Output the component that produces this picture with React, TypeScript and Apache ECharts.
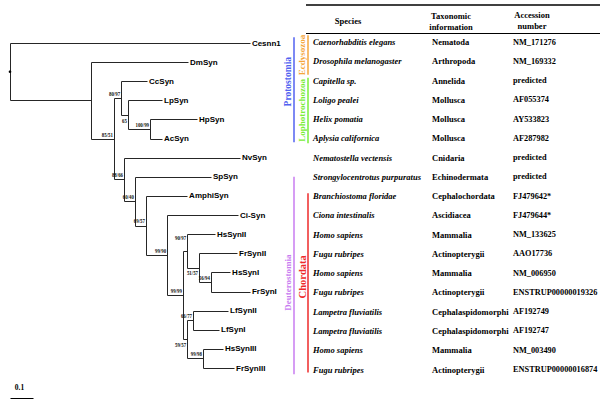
import React, { useEffect, useRef } from "react";
import * as echarts from "echarts";

// ---------- Data ----------
const leafNames = [
  "Cesnn1", "DmSyn", "CcSyn", "LpSyn", "HpSyn", "AcSyn", "NvSyn", "SpSyn", "AmphiSyn",
  "Ci-Syn", "HsSynII", "FrSynII", "HsSynI", "FrSynI", "LfSynII", "LfSynI", "HsSynIII", "FrSynIII",
];

// [child, parent, branch length]
const branches: [string, string, number][] = [
  ["A", "root", 0.352],
  ["Cesnn1", "root", 1.043],
  ["DmSyn", "A", 0.422],
  ["B", "A", 0.1],
  ["C", "B", 0.031],
  ["F", "B", 0.044],
  ["CcSyn", "C", 0.113],
  ["D", "C", 0.03],
  ["LpSyn", "D", 0.148],
  ["E", "D", 0.096],
  ["HpSyn", "E", 0.204],
  ["AcSyn", "E", 0.052],
  ["NvSyn", "F", 0.504],
  ["G", "F", 0.047],
  ["SpSyn", "G", 0.331],
  ["H", "G", 0.048],
  ["AmphiSyn", "H", 0.179],
  ["I", "H", 0.092],
  ["Ci-Syn", "I", 0.308],
  ["J", "I", 0.069],
  ["K1", "J", 0.018],
  ["L", "J", 0.018],
  ["HsSynII", "K1", 0.121],
  ["K2", "K1", 0.052],
  ["FrSynII", "K2", 0.165],
  ["K3", "K2", 0.052],
  ["HsSynI", "K3", 0.083],
  ["FrSynI", "K3", 0.169],
  ["M", "L", 0.026],
  ["N", "L", 0.069],
  ["LfSynII", "M", 0.152],
  ["LfSynI", "M", 0.113],
  ["HsSynIII", "N", 0.087],
  ["FrSynIII", "N", 0.135],
];

const supportNodes = ["B", "C", "D", "E", "F", "G", "H", "I", "J", "K1", "K2", "K3", "L", "M", "N"];
const supportValues = ["85/51", "80/97", "65", "100/99", "88/66", "60/40", "69/57", "99/90", "99/99", "90/97", "51/57", "56/94", "59/57", "66/77", "99/98"];

const scaleBarValues = [0.1];
const scaleBarLabels = ["0.1"];

const speciesNames = [
  "Caenorhabditis elegans", "Drosophila melanogaster", "Capitella sp.", "Loligo pealei",
  "Helix pomatia", "Aplysia californica", "Nematostella vectensis", "Strongylocentrotus purpuratus",
  "Branchiostoma floridae", "Ciona intestinalis", "Homo sapiens", "Fugu rubripes", "Homo sapiens",
  "Fugu rubripes", "Lampetra fluviatilis", "Lampetra fluviatilis", "Homo sapiens", "Fugu rubripes",
];
const taxonomyInfo = [
  "Nematoda", "Arthropoda", "Annelida", "Mollusca", "Mollusca", "Mollusca", "Cnidaria",
  "Echinodermata", "Cephalochordata", "Ascidiacea", "Mammalia", "Actinopterygii", "Mammalia",
  "Actinopterygii", "Cephalaspidomorphi", "Cephalaspidomorphi", "Mammalia", "Actinopterygii",
];
const accessionNumbers = [
  "NM_171276", "NM_169332", "predicted", "AF055374", "AY533823", "AF287982", "predicted",
  "predicted", "FJ479642*", "FJ479644*", "NM_133625", "AAO17736", "NM_006950",
  "ENSTRUP00000019326", "AF192749", "AF192747", "NM_003490", "ENSTRUP00000016874",
];
const headerSpecies = ["Species"];
const headerTaxonomy = ["Taxonomic", "information"];
const headerAccession = ["Accession", "number"];

const cladeNames = ["Protostomia", "Ecdysozoa", "Lophotrochozoa", "Deuterostomia", "Chordata"];
const cladeFirstRow = [-0.25, -0.35, 1.85, 7.0, 7.85];
const cladeLastRow = [5.2, 1.7, 5.25, 17.25, 17.15];

// ---------- Styles / layout ----------
const LINE = "#262626";
const cladeColors = ["#5262f0", "#f5a63a", "#7aee36", "#c87cf0", "#ee2a2a"];
const cladeLevel = [0, 1, 1, 0, 1];
const cladeFontSize = [9.5, 9, 9, 9, 10.5];
const cladeLabelShift = [-8, 0, 0, 7, -6];
const belowLabels = ["D", "K2", "L"];
const raisedLabels = ["K1"];
const SERIF = '"Liberation Serif", "Times New Roman", serif';
const SANS = '"Liberation Sans", Arial, sans-serif';

// ---------- Tree computation ----------
const parentOf: Record<string, string> = {};
const lenOf: Record<string, number> = {};
const childrenOf: Record<string, string[]> = {};
branches.forEach(([c, p, l]) => {
  parentOf[c] = p;
  lenOf[c] = l;
  (childrenOf[p] = childrenOf[p] || []).push(c);
});
const depthOf = (n: string): number => (n === "root" ? 0 : depthOf(parentOf[n]) + lenOf[n]);
const yOf = (n: string): number => {
  const li = leafNames.indexOf(n);
  if (li >= 0) return li;
  const ys = childrenOf[n].map(yOf);
  return (Math.min(...ys) + Math.max(...ys)) / 2;
};
const allNodes = ["root", ...branches.map((b) => b[0])];
const treeData = allNodes.map((n) => {
  const d = depthOf(n);
  const y = yOf(n);
  const pd = n === "root" ? d : depthOf(parentOf[n]);
  const ch = childrenOf[n];
  const cys = ch ? ch.map(yOf) : [y, y];
  return [d, y, pd, Math.min(...cys), Math.max(...cys), ch ? 0 : 1];
});

const px = (v: number) => Math.round(v) + 0.5;

export default function App() {
  const ref = useRef<HTMLDivElement>(null);
  useEffect(() => {
    if (!ref.current) return;
    const chart = echarts.init(ref.current, null, { renderer: "svg" });
    const lineStyle = { stroke: LINE, lineWidth: 1 };
    const headerText = (t: string, x: number, y: number) => ({
      type: "text", x, y,
      style: { text: t, font: `bold 8.5px ${SERIF}`, fill: "#000", textAlign: "center", textVerticalAlign: "middle", align: "center", verticalAlign: "middle" },
    });

    const option: any = {
      animation: false,
      backgroundColor: "#ffffff",
      color: ["#000000"],
      grid: [
        { left: 10, top: 43, width: 230, height: 325 },
        { left: 306, top: 42, width: 294, height: 327.5 },
      ],
      xAxis: [
        { type: "value", gridIndex: 0, min: 0, max: 1, show: false },
        { type: "value", gridIndex: 1, min: 0, max: 294, show: false },
      ],
      yAxis: [
        { type: "value", gridIndex: 0, min: 0, max: 17, inverse: true, show: false },
        { type: "value", gridIndex: 1, min: 0, max: 17, inverse: true, show: false },
      ],
      graphic: [
        { type: "line", shape: { x1: 306, y1: 5, x2: 600, y2: 5 }, style: { stroke: "#000", lineWidth: 1.5 } },
        { type: "line", shape: { x1: 306, y1: 33.5, x2: 600, y2: 33.5 }, style: { stroke: "#000", lineWidth: 1 } },
        ...headerSpecies.map((t, i) => headerText(t, 348, 21 + i * 11)),
        ...headerTaxonomy.map((t, i) => headerText(t, 451, 16 + i * 11)),
        ...headerAccession.map((t, i) => headerText(t, 532, 15 + i * 11)),
      ],
      series: [
        {
          type: "custom",
          xAxisIndex: 0,
          yAxisIndex: 0,
          clip: false,
          encode: { x: 0, y: 1 },
          data: treeData,
          renderItem: (params: any, api: any) => {
            const i = params.dataIndex;
            const name = allNodes[i];
            const d = api.value(0), y = api.value(1), pd = api.value(2);
            const c0 = api.value(3), c1 = api.value(4), leaf = api.value(5);
            const p = api.coord([d, y]);
            const pp = api.coord([pd, y]);
            const children: any[] = [];
            if (name !== "root") {
              children.push({ type: "line", shape: { x1: px(pp[0]), y1: px(p[1]), x2: px(p[0]), y2: px(p[1]) }, style: lineStyle });
            }
            if (!leaf) {
              const a = api.coord([d, c0]);
              const b = api.coord([d, c1]);
              children.push({ type: "line", shape: { x1: px(p[0]), y1: px(a[1]), x2: px(p[0]), y2: px(b[1]) }, style: lineStyle });
            } else {
              children.push({
                type: "text", x: p[0] + 2, y: p[1],
                style: { text: name, font: `bold 8px ${SANS}`, fill: "#000", textAlign: "left", textVerticalAlign: "middle", align: "left", verticalAlign: "middle" },
              });
            }
            const si = supportNodes.indexOf(name);
            if (si >= 0) {
              const below = belowLabels.indexOf(name) >= 0;
              const raised = raisedLabels.indexOf(name) >= 0;
              const ty = below ? p[1] + 2 : raised ? p[1] - 10 : p[1] - 1;
              children.push({
                type: "text", x: p[0] - 1, y: ty, scaleX: 0.7,
                style: {
                  text: supportValues[si], font: `bold 7px ${SERIF}`, fill: "#111",
                  textAlign: "right", align: "right",
                  textVerticalAlign: below ? "top" : "bottom", verticalAlign: below ? "top" : "bottom",
                },
              });
            }
            if (name === "root") {
              children.push({ type: "circle", shape: { cx: p[0], cy: p[1], r: 1.3 }, style: { fill: "#000" } });
            }
            return { type: "group", children };
          },
        },
        {
          type: "custom",
          xAxisIndex: 0,
          yAxisIndex: 0,
          clip: false,
          itemStyle: { color: "#000" },
          encode: { x: 0, y: 1 },
          data: scaleBarValues.map((v) => [v, 17]),
          renderItem: (params: any, api: any) => {
            const v = api.value(0);
            const a = api.coord([0, 17]);
            const b = api.coord([v, 17]);
            const yb = a[1] + 30;
            return {
              type: "group",
              children: [
                { type: "line", shape: { x1: px(a[0]), y1: px(yb), x2: px(b[0]), y2: px(yb) }, style: { stroke: "#000", lineWidth: 1 } },
                {
                  type: "text", x: (a[0] + b[0]) / 2 - 2, y: yb - 11,
                  style: { text: scaleBarLabels[params.dataIndex], font: `bold 7.5px ${SERIF}`, fill: "#000", textAlign: "center", textVerticalAlign: "middle", align: "center", verticalAlign: "middle" },
                },
              ],
            };
          },
        },
        {
          type: "custom",
          xAxisIndex: 1,
          yAxisIndex: 1,
          clip: false,
          encode: { x: 0, y: 1 },
          data: speciesNames.map((_, i) => [0, i]),
          renderItem: (params: any, api: any) => {
            const i = params.dataIndex;
            const p = api.coord([0, api.value(1)]);
            const base = { fill: "#000", textVerticalAlign: "middle", verticalAlign: "middle", textAlign: "left", align: "left" };
            return {
              type: "group",
              children: [
                { type: "text", x: p[0] + 7, y: p[1], style: { ...base, text: speciesNames[i], font: `italic bold 8.5px ${SERIF}` } },
                { type: "text", x: p[0] + 126, y: p[1], style: { ...base, text: taxonomyInfo[i], font: `bold 8.5px ${SERIF}` } },
                { type: "text", x: p[0] + 207, y: p[1], style: { ...base, text: accessionNumbers[i], font: `bold 8.3px ${SERIF}` } },
              ],
            };
          },
        },
        {
          type: "custom",
          xAxisIndex: 1,
          yAxisIndex: 1,
          clip: false,
          encode: { x: 0, y: [1, 2] },
          data: cladeNames.map((_, i) => [0, cladeFirstRow[i], cladeLastRow[i]]),
          renderItem: (params: any, api: any) => {
            const i = params.dataIndex;
            const a = api.coord([0, api.value(1)]);
            const b = api.coord([0, api.value(2)]);
            const lx = a[0] + (cladeLevel[i] === 0 ? -12 : 2);
            const tx = lx - 6;
            return {
              type: "group",
              children: [
                { type: "line", shape: { x1: lx, y1: a[1], x2: lx, y2: b[1] }, style: { stroke: cladeColors[i], lineWidth: 1.5 } },
                {
                  type: "text", x: tx, y: (a[1] + b[1]) / 2 + cladeLabelShift[i], rotation: Math.PI / 2,
                  style: {
                    text: cladeNames[i], font: `bold ${cladeFontSize[i]}px ${SERIF}`, fill: cladeColors[i],
                    textAlign: "center", align: "center", textVerticalAlign: "middle", verticalAlign: "middle",
                  },
                },
              ],
            };
          },
        },
      ],
    };
    chart.setOption(option);
    return () => chart.dispose();
  }, []);
  return (
    <div
      ref={ref}
      style={{ position: "fixed", left: 0, top: 0, width: 600, height: 404, background: "#fff" }}
    />
  );
}
